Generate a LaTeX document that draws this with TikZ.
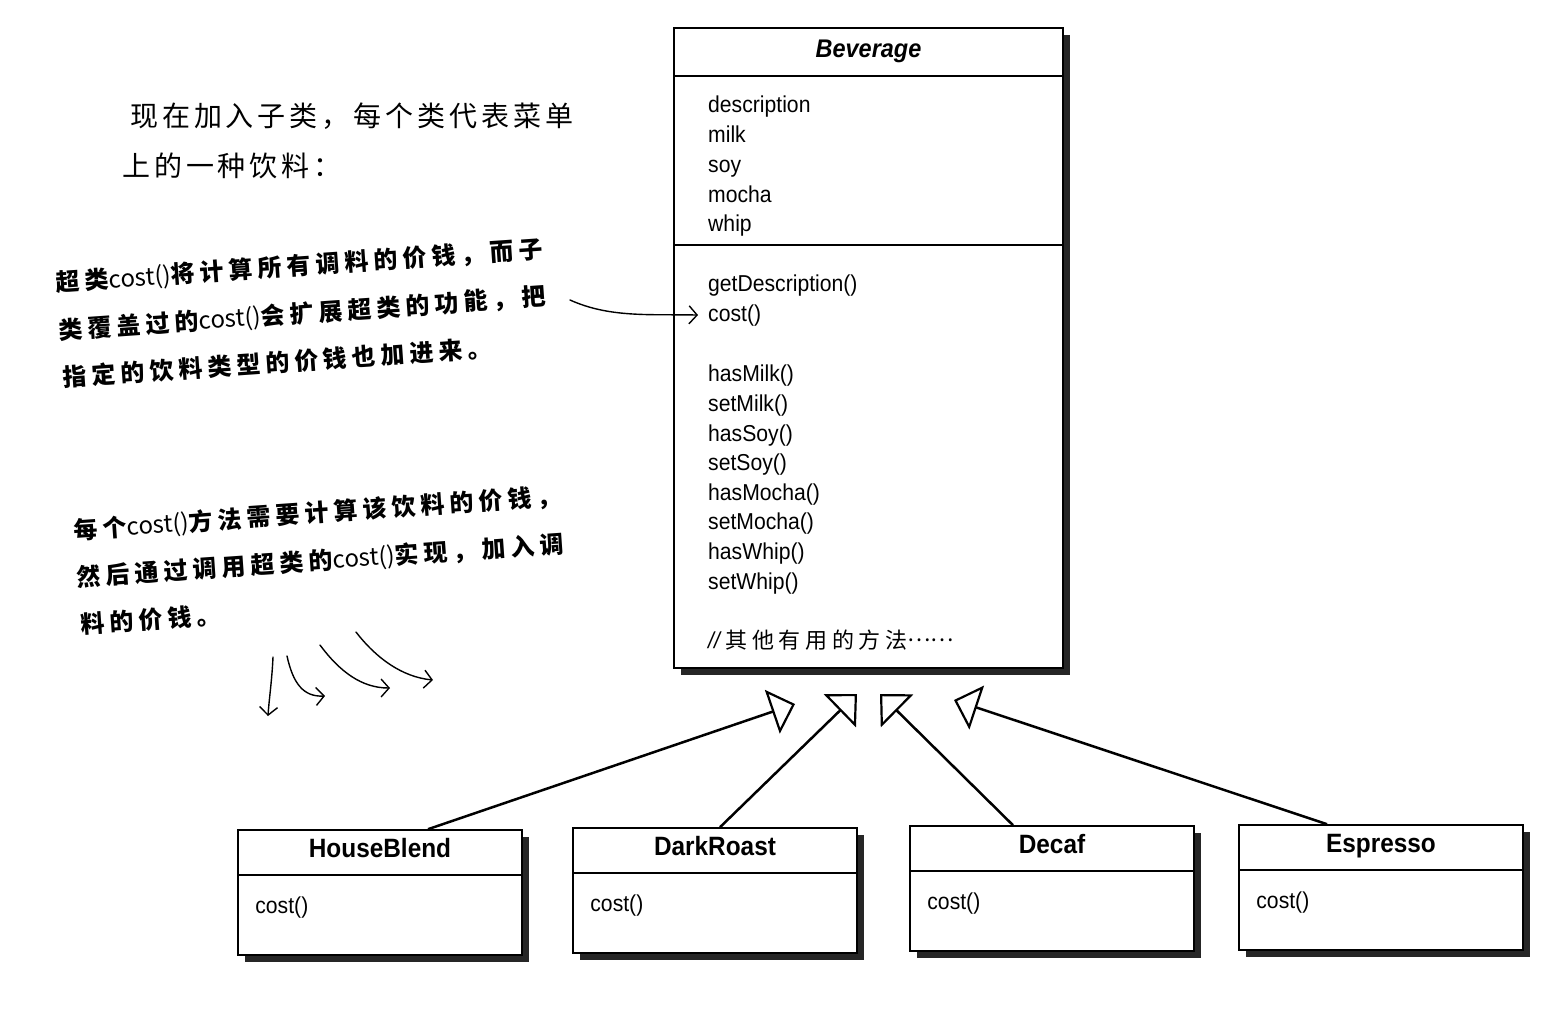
\documentclass[tikz,border=0pt]{standalone}
\usepackage{fontspec}
\setmainfont{Liberation Sans}[FakeStretch=0.92]
\newfontfamily\cjk{Noto Sans CJK SC}[LetterSpace=14]
\newfontfamily\handcjk{Noto Sans CJK SC}[LetterSpace=21]
\newfontfamily\handlatin{Noto Sans CJK SC}
\newcommand{\handcost}{{\handlatin\mdseries cost()}}
\usetikzlibrary{arrows.meta, positioning, calc, shadows}

\tikzset{
  classbox/.style={draw, line width=1.6pt, fill=white, inner sep=0pt,
    drop shadow={shadow xshift=7pt, shadow yshift=-7pt, fill=black!85, opacity=1}},
  classname/.style={anchor=base, inner sep=0pt, font=\fontsize{26.5}{30}\selectfont\bfseries},
  member/.style={anchor=base west, inner sep=0pt, font=\fontsize{23}{28}\selectfont},
  divider/.style={line width=1.6pt},
  extends/.style={line width=2.5pt, -{Triangle[open, length=24pt, width=46pt, line width=2.2pt]}},
  hand/.style={line width=1.4pt, line cap=round, -{Straight Barb[length=8pt, width=18pt, line width=1.4pt]}},
  handnote/.style={anchor=north west, align=left, inner sep=0pt, rotate=4,
    font=\handcjk\bfseries\fontsize{24}{47.5}\selectfont}
}

\begin{document}
\begin{tikzpicture}[x=1pt, y=-1pt]
    \useasboundingbox (0,0) rectangle (1552,1020);

    % Superclass
    \node[classbox, minimum width=389pt, minimum height=640pt] (bev) at (868.5,348) {};
    \draw[divider] ($(bev.north west)+(0,49)$) -- ($(bev.north east)+(0,49)$);
    \draw[divider] ($(bev.north west)+(0,218)$) -- ($(bev.north east)+(0,218)$);
    \node[classname, font=\fontsize{25.5}{30}\selectfont\bfseries\itshape] (bevname) at ($(bev.north)+(0,30)$) {Beverage};

    % Instance variables
    \node[member] (bevdescr) at (708,112) {description};
    \node[member] (bevmilk) at (708,142) {milk};
    \node[member] (bevsoy) at (708,172) {soy};
    \node[member] (bevmocha) at (708,202) {mocha};
    \node[member] (bevwhip) at (708,231) {whip};

    % Methods
    \node[member] (bevgetdesc) at (708,291) {getDescription()};
    \node[member] (bevcost) at (708,321) {cost()};
    \node[member] (bevhasmilk) at (708,381) {hasMilk()};
    \node[member] (bevsetmilk) at (708,411) {setMilk()};
    \node[member] (bevhassoy) at (708,441) {hasSoy()};
    \node[member] (bevsetsoy) at (708,470) {setSoy()};
    \node[member] (bevhasmocha) at (708,500) {hasMocha()};
    \node[member] (bevsetmocha) at (708,529) {setMocha()};
    \node[member] (bevhaswhip) at (708,559) {hasWhip()};
    \node[member] (bevsetwhip) at (708,589) {setWhip()};
    \node[member] (bevother) at (708,648) {\textit{//}\,{\handcjk\fontsize{22}{28}\selectfont 其他有用的方法\raisebox{0.3em}{\handlatin ……}}};

    % Subclasses
    \node[classbox, minimum width=284pt, minimum height=125pt] (hb) at (380,892.5) {};
    \draw[divider] ($(hb.north west)+(0,46)$) -- ($(hb.north east)+(0,46)$);
    \node[classname] (hbname) at ($(hb.north)+(0,28)$) {HouseBlend};
    \node[member] (hbcost) at ($(hb.north west)+(18,84)$) {cost()};

    \node[classbox, minimum width=284pt, minimum height=125pt] (dr) at (715,890.5) {};
    \draw[divider] ($(dr.north west)+(0,46)$) -- ($(dr.north east)+(0,46)$);
    \node[classname] (drname) at ($(dr.north)+(0,28)$) {DarkRoast};
    \node[member] (drcost) at ($(dr.north west)+(18,84)$) {cost()};

    \node[classbox, minimum width=284pt, minimum height=125pt] (dc) at (1052,888.5) {};
    \draw[divider] ($(dc.north west)+(0,46)$) -- ($(dc.north east)+(0,46)$);
    \node[classname] (dcname) at ($(dc.north)+(0,28)$) {Decaf};
    \node[member] (dccost) at ($(dc.north west)+(18,84)$) {cost()};

    \node[classbox, minimum width=284pt, minimum height=125pt] (es) at (1381,887.5) {};
    \draw[divider] ($(es.north west)+(0,46)$) -- ($(es.north east)+(0,46)$);
    \node[classname] (esname) at ($(es.north)+(0,28)$) {Espresso};
    \node[member] (escost) at ($(es.north west)+(18,84)$) {cost()};

    % Inheritance arrows
    \coordinate (tiphb) at (795,704);
    \coordinate (tipdr) at (857,694);
    \coordinate (tipdc) at (880,694);
    \coordinate (tipes) at (954,700);
    \draw[extends] ($(hb.north)+(48,0)$) -- (tiphb);
    \draw[extends] ($(dr.north)+(5,0)$) -- (tipdr);
    \draw[extends] ($(dc.north)+(-39,0)$) -- (tipdc);
    \draw[extends] ($(es.north)+(-54,0)$) -- (tipes);

    % Notes
    \node[anchor=north west, align=left, inner sep=0pt, font=\cjk\fontsize{28}{50}\selectfont] (intro) at (122,103)
        {\hspace*{8pt}现在加入子类，每个类代表菜单\\上的一种饮料：};
    \node[handnote] (note1) at (55,271)
        {超类\handcost 将计算所有调料的价钱，而子\\类覆盖过的\handcost 会扩展超类的功能，把\\指定的饮料类型的价钱也加进来。};
    \node[handnote] (note2) at (73,518)
        {每个\handcost 方法需要计算该饮料的价钱，\\然后通过调用超类的\handcost 实现，加入调\\料的价钱。};

    % Hand-drawn arrows
    \coordinate (note1out) at (570,300);
    \draw[hand] (note1out) .. controls (610,318) and (650,314) .. ([xshift=-10pt]bevcost.west);
    \draw[hand] (273,657) .. controls (272,680) and (269,700) .. (268,716);
    \draw[hand] (287,656) .. controls (293,683) and (303,697) .. (325,696);
    \draw[hand] (320,645) .. controls (340,672) and (362,688) .. (390,688);
    \draw[hand] (356,632) .. controls (376,658) and (402,677) .. (433,680);
\end{tikzpicture}
\end{document}
